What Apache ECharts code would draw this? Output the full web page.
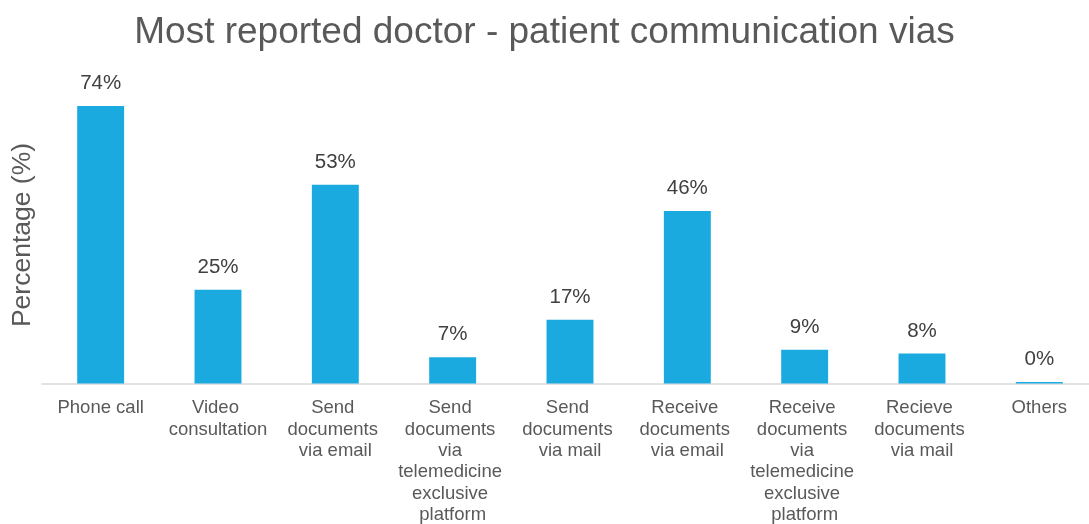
<!DOCTYPE html>
<html>
<head>
<meta charset="utf-8">
<script src="https://cdn.jsdelivr.net/npm/echarts@6/dist/echarts.min.js"></script>
<style>
  html, body { margin: 0; padding: 0; background: #ffffff; }
  #chart { width: 1089px; height: 524px; }
</style>
</head>
<body>
<div id="chart"></div>
<script>
// Communication channels and share of respondents reporting each one
const categories = [
  'Phone call',
  'Video consultation',
  'Send documents via email',
  'Send documents via telemedicine exclusive platform',
  'Send documents via mail',
  'Receive documents via email',
  'Receive documents via telemedicine exclusive platform',
  'Recieve documents via mail',
  'Others'
];
const percentages = [74, 25, 53, 7, 17, 46, 9, 8, 0];

const FONT = '"Liberation Sans", Arial, sans-serif';

const chart = echarts.init(document.getElementById('chart'), null, { renderer: 'canvas' });
chart.setOption({
  animation: false,
  backgroundColor: '#ffffff',
  title: {
    text: 'Most reported doctor - patient communication vias',
    left: 'center',
    top: 9,
    textStyle: { fontFamily: FONT, fontSize: 37, fontWeight: 'normal', color: '#595959' }
  },
  grid: { left: 42, right: -9, top: 8.5, bottom: 140.5, outerBoundsMode: 'none', containLabel: false },
  graphic: [{
    type: 'text',
    x: 23,
    y: 235,
    rotation: Math.PI / 2,
    style: {
      text: 'Percentage (%)',
      font: '26.5px ' + FONT,
      fill: '#595959',
      align: 'center',
      verticalAlign: 'middle'
    }
  }],
  xAxis: {
    type: 'category',
    data: categories,
    axisTick: { show: false },
    axisLine: { show: true, lineStyle: { color: '#D9D9D9', width: 1.5 } },
    axisLabel: {
      interval: 0,
      margin: 14,
      width: 112,
      overflow: 'break',
      align: 'center',
      fontFamily: FONT,
      fontSize: 18.5,
      lineHeight: 21.4,
      color: '#595959'
    }
  },
  yAxis: {
    type: 'value',
    min: 0,
    max: 100,
    interval: 10,
    axisLine: { show: false },
    axisTick: { show: false },
    axisLabel: { show: false },
    splitLine: { show: false }
  },
  series: [{
    type: 'bar',
    data: percentages,
    barWidth: '40%',
    barMinHeight: 1.5,
    itemStyle: { color: '#1BAADF' },
    label: {
      show: true,
      position: 'top',
      distance: 12,
      formatter: '{c}%',
      fontFamily: FONT,
      fontSize: 20.5,
      color: '#404040'
    }
  }]
});
</script>
</body>
</html>
